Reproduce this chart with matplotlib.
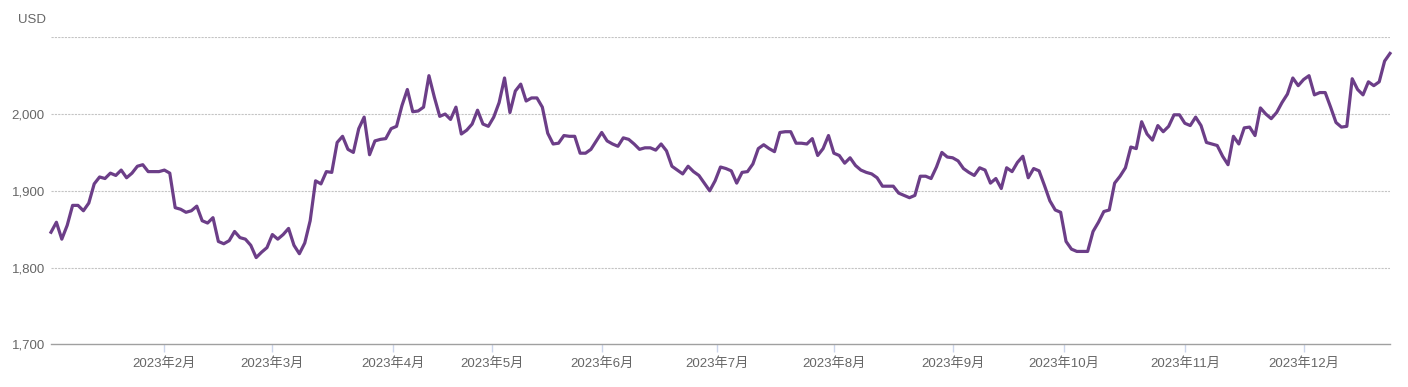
import numpy as np
import matplotlib
matplotlib.use('Agg')
import matplotlib.pyplot as plt

# daily gold price (USD), one list per month
jan = [1846, 1859, 1837, 1855, 1881, 1881, 1874, 1884, 1909, 1918, 1916,
       1923, 1920, 1927, 1917, 1923, 1932, 1934, 1925, 1925, 1925]
feb = [1927, 1923, 1878, 1876, 1872, 1874, 1880, 1861, 1858, 1865, 1834,
       1831, 1835, 1847, 1839, 1837, 1829, 1813, 1820, 1826]
mar = [1843, 1837, 1843, 1851, 1829, 1818, 1832, 1861, 1913, 1909, 1925,
       1924, 1963, 1971, 1954, 1950, 1981, 1996, 1947, 1965, 1967, 1968, 1981]
apr = [1984, 2011, 2032, 2003, 2004, 2009, 2050, 2022, 1997, 2000, 1993,
       2009, 1974, 1979, 1987, 2005, 1987, 1984]
may = [1996, 2015, 2047, 2002, 2030, 2039, 2017, 2021, 2021, 2009, 1975,
       1961, 1962, 1972, 1971, 1971, 1949, 1949, 1954, 1965]
jun = [1976, 1965, 1961, 1958, 1969, 1967, 1961, 1954, 1956, 1956, 1953,
       1961, 1952, 1932, 1927, 1922, 1932, 1925, 1920, 1910, 1900, 1913]
jul = [1931, 1929, 1926, 1910, 1924, 1925, 1935, 1955, 1960, 1955, 1951,
       1976, 1977, 1977, 1962, 1962, 1961, 1968, 1946, 1955, 1972]
aug = [1949, 1946, 1936, 1943, 1933, 1927, 1924, 1922, 1917, 1906, 1906,
       1906, 1897, 1894, 1891, 1894, 1919, 1919, 1916, 1931, 1950, 1944]
sep = [1943, 1939, 1929, 1924, 1920, 1930, 1927, 1910, 1916, 1903, 1930,
       1925, 1937, 1945, 1917, 1929, 1926, 1907, 1887, 1875, 1872]
oct_ = [1834, 1824, 1821, 1821, 1821, 1847, 1859, 1873, 1875, 1910, 1919,
        1930, 1957, 1955, 1990, 1974, 1966, 1985, 1977, 1984, 1999, 1999]
nov = [1988, 1985, 1996, 1985, 1963, 1961, 1959, 1945, 1934, 1971, 1961,
       1982, 1983, 1972, 2008, 2000, 1994, 2002, 2015, 2026, 2047, 2037]
dec = [2045, 2050, 2025, 2028, 2028, 2009, 1989, 1983, 1984, 2046, 2032,
       2025, 2042, 2037, 2042, 2069, 2079]

prices = jan + feb + mar + apr + may + jun + jul + aug + sep + oct_ + nov + dec

# trading days (London calendar)
uk_holidays = ['2023-01-02', '2023-04-07', '2023-04-10', '2023-05-01',
               '2023-05-08', '2023-05-29', '2023-08-28', '2023-12-25',
               '2023-12-26']
days = np.arange('2023-01-03', '2023-12-28', dtype='datetime64[D]')
days = days[np.is_busday(days, holidays=uk_holidays)]
n = len(prices)
days = days[:n]

month_starts = np.arange('2023-02', '2024-01', dtype='datetime64[M]').astype('datetime64[D]')
tick_pos = np.interp(month_starts.astype(float), days.astype(float), np.arange(len(days)))
tick_labels = [f'2023年{m}月' for m in range(2, 13)]

y_ticks = [1700, 1800, 1900, 2000]
grid_levels = [1800, 1900, 2000, 2100]

plt.rcParams['font.family'] = ['Liberation Sans', 'Noto Sans CJK SC', 'DejaVu Sans']

W, H = 1408, 387
fig = plt.figure(figsize=(W / 100, H / 100), dpi=100)
ax = fig.add_axes([51 / W, (H - 344.3) / H, (1390 - 51) / W, (344.3 - 37.3) / H])

for g in grid_levels:
    ax.axhline(g, color='#c4c4c4', lw=0.8, ls=(0, (2, 1)), zorder=1)

ax.plot(np.arange(n), prices, color='#6c3e88', lw=2.3, solid_joinstyle='round',
        zorder=3, clip_on=False)

ax.set_xlim(0, n - 1)
ax.set_ylim(1700, 2100)

ax.set_xticks(tick_pos)
ax.set_xticklabels(tick_labels)
ax.set_yticks(y_ticks)
ax.set_yticklabels([f'{v:,}' for v in y_ticks])

ax.tick_params(axis='x', length=6, width=1, color='#ccd6eb', pad=3,
               labelsize=9.5, labelcolor='#666666')
ax.tick_params(axis='y', length=0, pad=4.5, labelsize=9.5, labelcolor='#666666')

for side in ['top', 'right', 'left']:
    ax.spines[side].set_visible(False)
ax.spines['bottom'].set_color('#a0a0a0')
ax.spines['bottom'].set_linewidth(1)

fig.text(18 / W, 1 - 20 / H, 'USD', ha='left', va='center', fontsize=9.5, color='#666666')

fig.savefig('out.png', dpi=100)
